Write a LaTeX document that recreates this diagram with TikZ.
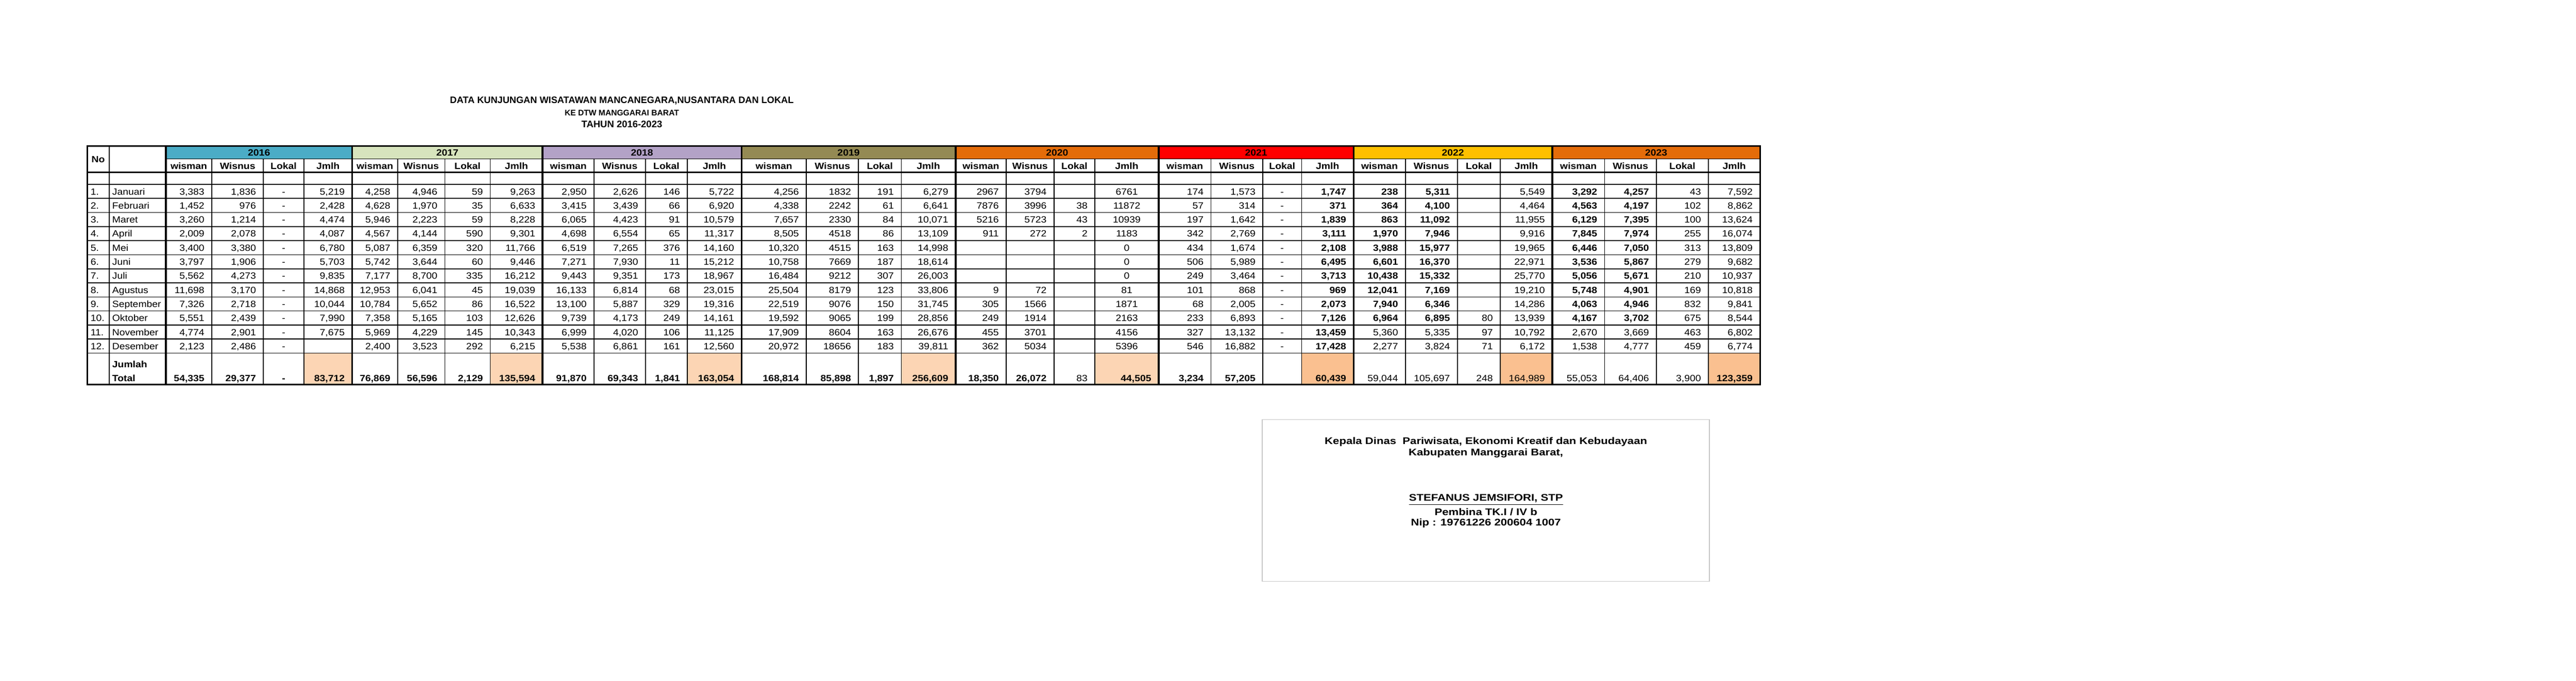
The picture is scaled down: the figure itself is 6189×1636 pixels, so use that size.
\documentclass[tikz,border=0pt]{standalone}
\usepackage{fontspec}
\setmainfont{Liberation Sans}
\newfontfamily\tabfont[FakeStretch=1.1]{Liberation Sans}
\newfontfamily\signfont[FakeStretch=1.18]{Liberation Sans}
\usetikzlibrary{positioning,calc}
\definecolor{yrteal}{HTML}{4BACC6}
\definecolor{yrgreen}{HTML}{D7E4BD}
\definecolor{yrlilac}{HTML}{B3A2C7}
\definecolor{yrolive}{HTML}{948A54}
\definecolor{yrorange}{HTML}{E46C0A}
\definecolor{yrred}{HTML}{FF0000}
\definecolor{yramber}{HTML}{FFC000}
\definecolor{totpeach}{HTML}{FCD5B4}
\definecolor{totpeachdk}{HTML}{FAC090}

\tikzset{
  cell/.style={inner sep=0pt, font=\tabfont\fontsize{6.2}{7}\selectfont},
  num/.style={cell, anchor=base east},
  mid/.style={cell, anchor=base},
  lft/.style={cell, anchor=base west},
  hdr/.style={cell, anchor=base, font=\tabfont\bfseries\fontsize{6.2}{7}\selectfont},
  thinrule/.style={line width=0.55pt},
  thickrule/.style={line width=1.2pt, line cap=rect},
  titletext/.style={inner sep=0pt, font=\bfseries\fontsize{6.4}{7}\selectfont},
  signtext/.style={inner sep=0pt, font=\signfont\bfseries\fontsize{6.6}{8}\selectfont},
}

\newcommand{\bnum}[1]{\textbf{#1}}
% right aligned column: tag, right x, 13 values (12 months + total)
\newcommand{\colnums}[3]{%
  \foreach \v [count=\r] in {#3} {
    \pgfmathsetmacro\yb{\r<13 ? 434.1+33.8*\r : 916}
    \node[num] (#1-\r) at (#2-17,\yb) {\v};
  }}
% centred column: tag, left x, right x, values
\newcommand{\colmid}[4]{%
  \foreach \v [count=\r] in {#4} {
    \pgfmathsetmacro\yb{\r<13 ? 434.1+33.8*\r : 916}
    \node[mid] (#1-\r) at ({(#2+#3)/2},\yb) {\v};
  }}
% year header: year, colour, five x boundaries
\newcommand{\yearhead}[7]{%
  \fill[#2] (#3,351) rectangle (#7,382);
  \node[hdr] (y#1) at ({(#3+#7)/2},374) {#1};
  \node[hdr] (w#1) at ({(#3+#4)/2},406) {wisman};
  \node[hdr] (n#1) at ({(#4+#5)/2},406) {Wisnus};
  \node[hdr] (l#1) at ({(#5+#6)/2},406) {Lokal};
  \node[hdr] (j#1) at ({(#6+#7)/2},406) {Jmlh};
}

\begin{document}
\begin{tikzpicture}[x=0.01cm, y=-0.01cm]
    \fill[white] (0,0) rectangle (6189,1636);
    \useasboundingbox (0,0) rectangle (6189,1636);

    % Title
    \node[titletext] (title) at (1494,242) {DATA KUNJUNGAN WISATAWAN MANCANEGARA,NUSANTARA DAN LOKAL};
    \node[titletext, font=\bfseries\fontsize{5.5}{6}\selectfont] (subtitle) at (1494,271) {KE DTW MANGGARAI BARAT};
    \node[titletext, font=\bfseries\fontsize{6.5}{7}\selectfont] (period) at (1494,298) {TAHUN 2016-2023};

    % Year headers
    \yearhead{2016}{yrteal}{398.6}{508.8}{632.8}{730}{846}
    \yearhead{2017}{yrgreen}{846}{955.4}{1068.6}{1177.9}{1303.6}
    \yearhead{2018}{yrlilac}{1303.6}{1427.2}{1550.8}{1651.4}{1781.5}
    \yearhead{2019}{yrolive}{1781.5}{1937.2}{2062.5}{2165.3}{2295.9}
    \yearhead{2020}{yrorange}{2295.9}{2417.3}{2532.2}{2630.6}{2783.7}
    \yearhead{2021}{yrred}{2783.7}{2909.5}{3034}{3127}{3252}
    \yearhead{2022}{yramber}{3252}{3376.5}{3501.4}{3604.5}{3729.5}
    \yearhead{2023}{yrorange}{3729.5}{3855}{3979.5}{4104.5}{4228.6}

    % Total cells
    \foreach \xa/\xb/\c in {730/846/totpeach,1177.9/1303.6/totpeach,1651.4/1781.5/totpeach,
        2165.3/2295.9/totpeach,2630.6/2783.7/totpeach,3127/3252/totpeachdk,
        3604.5/3729.5/totpeachdk,4104.5/4228.6/totpeachdk} {
        \fill[\c] (\xa,848.6) rectangle (\xb,924);
    }

    % Rules
    \draw[thickrule] (209.5,351) -- (4228.6,351);
    \draw[thinrule] (398.6,382) -- (4228.6,382);
    \draw[thickrule] (209.5,414) -- (4228.6,414);
    \draw[thinrule, line width=0.8pt] (209.5,443) -- (4228.6,443);
    \foreach \r in {1,...,12} {
        \draw[thinrule] (209.5,{443+33.8*\r}) -- (4228.6,{443+33.8*\r});
    }
    \draw[thickrule] (209.5,924) -- (4228.6,924);
    \draw[thinrule, line width=0.8pt] (262,351) -- (262,924);
    \foreach \x in {508.8,632.8,730,955.4,1068.6,1177.9,1427.2,1550.8,1651.4,1937.2,2062.5,2165.3,
        2417.3,2532.2,2630.6,2909.5,3034,3127,3376.5,3501.4,3604.5,3855,3979.5,4104.5} {
        \draw[thinrule] (\x,382) -- (\x,924);
    }
    \foreach \x in {209.5,398.6,846,1303.6,1781.5,2295.9,2783.7,3252,3729.5,4228.6} {
        \draw[thickrule] (\x,351) -- (\x,924);
    }

    % Row labels
    \node[hdr] (nohead) at (235.75,390) {No};
    \foreach \m [count=\r] in {Januari,Februari,Maret,April,Mei,Juni,Juli,Agustus,September,Oktober,November,Desember} {
        \node[lft] (no\r) at (217,{434.1+33.8*\r}) {\r.};
        \node[lft] (m\r) at (269,{434.1+33.8*\r}) {\m};
    }
    \node[lft, font=\tabfont\bfseries\fontsize{6.2}{7}\selectfont] (jumlah) at (269,883) {Jumlah};
    \node[lft, font=\tabfont\bfseries\fontsize{6.2}{7}\selectfont] (total) at (269,916) {Total};

    % 2016
    \colnums{a16}{508.8}{{3,383},{1,452},{3,260},{2,009},{3,400},{3,797},{5,562},{11,698},{7,326},{5,551},{4,774},{2,123},\bnum{54,335}}
    \colnums{b16}{632.8}{{1,836},976,{1,214},{2,078},{3,380},{1,906},{4,273},{3,170},{2,718},{2,439},{2,901},{2,486},\bnum{29,377}}
    \colmid{c16}{632.8}{730}{-,-,-,-,-,-,-,-,-,-,-,-,\bnum{-}}
    \colnums{d16}{846}{{5,219},{2,428},{4,474},{4,087},{6,780},{5,703},{9,835},{14,868},{10,044},{7,990},{7,675},{},\bnum{83,712}}

    % 2017
    \colnums{a17}{955.4}{{4,258},{4,628},{5,946},{4,567},{5,087},{5,742},{7,177},{12,953},{10,784},{7,358},{5,969},{2,400},\bnum{76,869}}
    \colnums{b17}{1068.6}{{4,946},{1,970},{2,223},{4,144},{6,359},{3,644},{8,700},{6,041},{5,652},{5,165},{4,229},{3,523},\bnum{56,596}}
    \colnums{c17}{1177.9}{59,35,59,590,320,60,335,45,86,103,145,292,\bnum{2,129}}
    \colnums{d17}{1303.6}{{9,263},{6,633},{8,228},{9,301},{11,766},{9,446},{16,212},{19,039},{16,522},{12,626},{10,343},{6,215},\bnum{135,594}}

    % 2018
    \colnums{a18}{1427.2}{{2,950},{3,415},{6,065},{4,698},{6,519},{7,271},{9,443},{16,133},{13,100},{9,739},{6,999},{5,538},\bnum{91,870}}
    \colnums{b18}{1550.8}{{2,626},{3,439},{4,423},{6,554},{7,265},{7,930},{9,351},{6,814},{5,887},{4,173},{4,020},{6,861},\bnum{69,343}}
    \colnums{c18}{1651.4}{146,66,91,65,376,11,173,68,329,249,106,161,\bnum{1,841}}
    \colnums{d18}{1781.5}{{5,722},{6,920},{10,579},{11,317},{14,160},{15,212},{18,967},{23,015},{19,316},{14,161},{11,125},{12,560},\bnum{163,054}}

    % 2019
    \colnums{a19}{1937.2}{{4,256},{4,338},{7,657},{8,505},{10,320},{10,758},{16,484},{25,504},{22,519},{19,592},{17,909},{20,972},\bnum{168,814}}
    \colnums{b19}{2062.5}{1832,2242,2330,4518,4515,7669,9212,8179,9076,9065,8604,18656,\bnum{85,898}}
    \colnums{c19}{2165.3}{191,61,84,86,163,187,307,123,150,199,163,183,\bnum{1,897}}
    \colnums{d19}{2295.9}{{6,279},{6,641},{10,071},{13,109},{14,998},{18,614},{26,003},{33,806},{31,745},{28,856},{26,676},{39,811},\bnum{256,609}}

    % 2020
    \colnums{a20}{2417.3}{2967,7876,5216,911,{},{},{},9,305,249,455,362,\bnum{18,350}}
    \colnums{b20}{2532.2}{3794,3996,5723,272,{},{},{},72,1566,1914,3701,5034,\bnum{26,072}}
    \colnums{c20}{2630.6}{{},38,43,2,{},{},{},{},{},{},{},{},83}
    \colmid{d20}{2630.6}{2783.7}{6761,11872,10939,1183,0,0,0,81,1871,2163,4156,5396}
    \node[num] (d20-13) at (2783.7-17,916) {\bnum{44,505}};

    % 2021
    \colnums{a21}{2909.5}{174,57,197,342,434,506,249,101,68,233,327,546,\bnum{3,234}}
    \colnums{b21}{3034}{{1,573},314,{1,642},{2,769},{1,674},{5,989},{3,464},868,{2,005},{6,893},{13,132},{16,882},\bnum{57,205}}
    \colmid{c21}{3034}{3127}{-,-,-,-,-,-,-,-,-,-,-,-}
    \colnums{d21}{3252}{\bnum{1,747},\bnum{371},\bnum{1,839},\bnum{3,111},\bnum{2,108},\bnum{6,495},\bnum{3,713},\bnum{969},\bnum{2,073},\bnum{7,126},\bnum{13,459},\bnum{17,428},\bnum{60,439}}

    % 2022
    \colnums{a22}{3376.5}{\bnum{238},\bnum{364},\bnum{863},\bnum{1,970},\bnum{3,988},\bnum{6,601},\bnum{10,438},\bnum{12,041},\bnum{7,940},\bnum{6,964},{5,360},{2,277},{59,044}}
    \colnums{b22}{3501.4}{\bnum{5,311},\bnum{4,100},\bnum{11,092},\bnum{7,946},\bnum{15,977},\bnum{16,370},\bnum{15,332},\bnum{7,169},\bnum{6,346},\bnum{6,895},{5,335},{3,824},{105,697}}
    \colnums{c22}{3604.5}{{},{},{},{},{},{},{},{},{},80,97,71,248}
    \colnums{d22}{3729.5}{{5,549},{4,464},{11,955},{9,916},{19,965},{22,971},{25,770},{19,210},{14,286},{13,939},{10,792},{6,172},{164,989}}

    % 2023
    \colnums{a23}{3855}{\bnum{3,292},\bnum{4,563},\bnum{6,129},\bnum{7,845},\bnum{6,446},\bnum{3,536},\bnum{5,056},\bnum{5,748},\bnum{4,063},\bnum{4,167},{2,670},{1,538},{55,053}}
    \colnums{b23}{3979.5}{\bnum{4,257},\bnum{4,197},\bnum{7,395},\bnum{7,974},\bnum{7,050},\bnum{5,867},\bnum{5,671},\bnum{4,901},\bnum{4,946},\bnum{3,702},{3,669},{4,777},{64,406}}
    \colnums{c23}{4104.5}{43,102,100,255,313,279,210,169,832,675,463,459,{3,900}}
    \colnums{d23}{4228.6}{{7,592},{8,862},{13,624},{16,074},{13,809},{9,682},{10,937},{10,818},{9,841},{8,544},{6,802},{6,774},\bnum{123,359}}

    % Signature
    \draw[gray!45, line width=0.6pt] (3033,1008) rectangle (4107,1397);
    \node[signtext] (office) at (3570,1061) {Kepala Dinas\ \ Pariwisata, Ekonomi Kreatif dan Kebudayaan};
    \node[signtext] (regency) at (3570,1089) {Kabupaten Manggarai Barat,};
    \node[signtext] (signer) at (3570,1201) {\underline{STEFANUS JEMSIFORI, STP}};
    \node[signtext] (rank) at (3570,1230) {Pembina TK.I / IV b};
    \node[signtext] (nip) at (3570,1257) {Nip : 19761226 200604 1007};
\end{tikzpicture}
\end{document}
